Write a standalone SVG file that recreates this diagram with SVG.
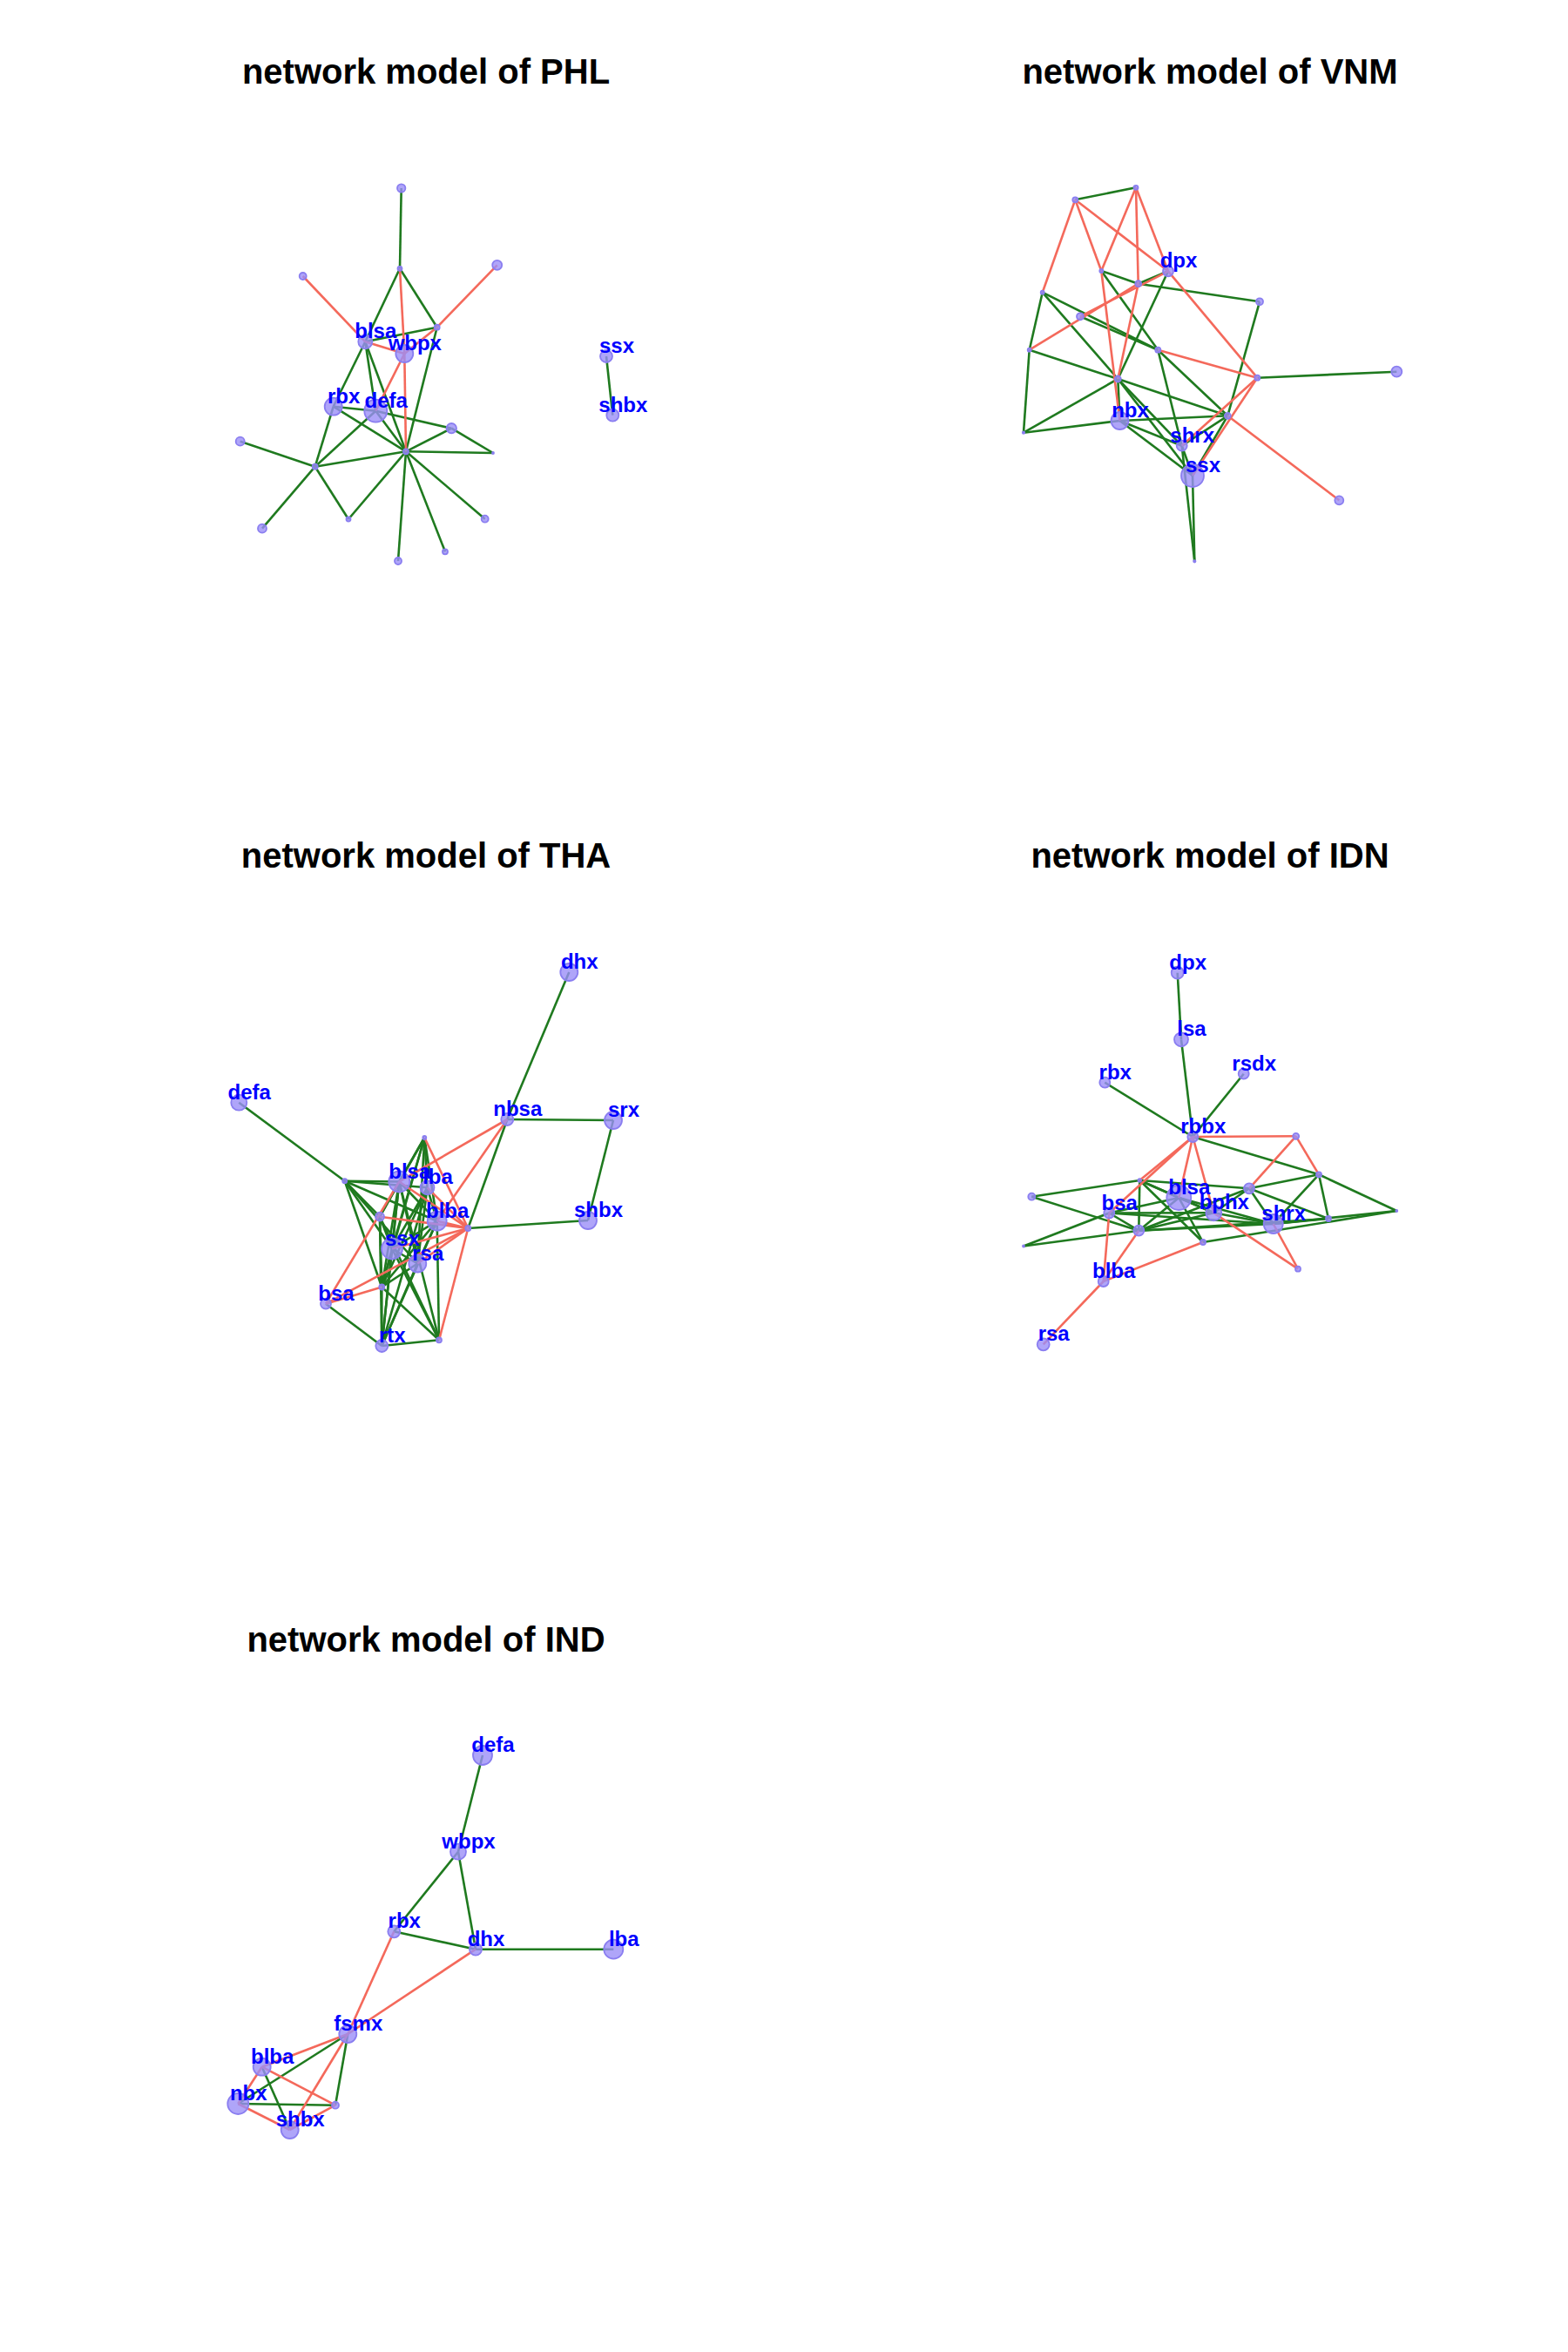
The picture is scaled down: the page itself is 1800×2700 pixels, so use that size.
<svg xmlns="http://www.w3.org/2000/svg" width="1800" height="2700" viewBox="0 0 1800 2700">
<style>
.bg{fill:#ffffff}
.t{font-family:"Liberation Sans",Arial,sans-serif;font-weight:bold;font-size:40px;fill:#000;text-anchor:middle}
.g{stroke:#1F7A1F;stroke-width:2.6;fill:none}
.r{stroke:#F4695B;stroke-width:2.6;fill:none}
circle{fill:#9B8EF7;fill-opacity:0.8;stroke:#8A7EF0;stroke-width:1.8}
.l{font-family:"Liberation Sans",Arial,sans-serif;font-weight:bold;font-size:24px;fill:#0000FF;text-anchor:middle}
</style>
<rect class="bg" width="1800" height="2700"/>
<text class="t" x="489" y="96">network model of PHL</text>
<text class="t" x="1389" y="96">network model of VNM</text>
<text class="t" x="489" y="996">network model of THA</text>
<text class="t" x="1389" y="996">network model of IDN</text>
<text class="t" x="489" y="1896">network model of IND</text>

<!-- PHL -->
<g id="phl-edges">
<line class="g" x1="460.7" y1="216" x2="459" y2="308.3"/>
<line class="g" x1="459" y1="308.3" x2="419.3" y2="392.3"/>
<line class="g" x1="459" y1="308.3" x2="501.7" y2="375.7"/>
<line class="g" x1="419.3" y1="392.3" x2="501.7" y2="375.7"/>
<line class="g" x1="501.7" y1="375.7" x2="466" y2="518.3"/>
<line class="g" x1="419.3" y1="392.3" x2="382.7" y2="466.7"/>
<line class="g" x1="382.7" y1="466.7" x2="361.7" y2="535.7"/>
<line class="g" x1="419.3" y1="392.3" x2="431.3" y2="471.7"/>
<line class="g" x1="419.3" y1="392.3" x2="466" y2="518.3"/>
<line class="g" x1="382.7" y1="466.7" x2="431.3" y2="471.7"/>
<line class="g" x1="382.7" y1="466.7" x2="466" y2="518.3"/>
<line class="g" x1="431.3" y1="471.7" x2="466" y2="518.3"/>
<line class="g" x1="431.3" y1="471.7" x2="361.7" y2="535.7"/>
<line class="g" x1="431.3" y1="471.7" x2="518.3" y2="491.7"/>
<line class="g" x1="466" y1="518.3" x2="518.3" y2="491.7"/>
<line class="g" x1="518.3" y1="491.7" x2="566" y2="520"/>
<line class="g" x1="466" y1="518.3" x2="566" y2="520"/>
<line class="g" x1="275.7" y1="506.7" x2="361.7" y2="535.7"/>
<line class="g" x1="361.7" y1="535.7" x2="466" y2="518.3"/>
<line class="g" x1="361.7" y1="535.7" x2="301" y2="606.7"/>
<line class="g" x1="361.7" y1="535.7" x2="400" y2="596"/>
<line class="g" x1="400" y1="596" x2="466" y2="518.3"/>
<line class="g" x1="466" y1="518.3" x2="457" y2="644"/>
<line class="g" x1="466" y1="518.3" x2="511" y2="633.3"/>
<line class="g" x1="466" y1="518.3" x2="556.7" y2="595.7"/>
<line class="g" x1="696" y1="409" x2="703.3" y2="476.7"/>
<line class="r" x1="347.7" y1="317" x2="419.3" y2="392.3"/>
<line class="r" x1="459" y1="308.3" x2="464.3" y2="406"/>
<line class="r" x1="464.3" y1="406" x2="466" y2="518.3"/>
<line class="r" x1="570.7" y1="304.3" x2="501.7" y2="375.7"/>
<line class="r" x1="501.7" y1="375.7" x2="464.3" y2="406"/>
<line class="r" x1="419.3" y1="392.3" x2="464.3" y2="406"/>
<line class="r" x1="464.3" y1="406" x2="431.3" y2="471.7"/>
</g>
<g id="phl-n-top"><circle cx="460.7" cy="216" r="4.7"/></g>
<g id="phl-n-h1"><circle cx="459" cy="308.3" r="2.5"/></g>
<g id="phl-n-lt"><circle cx="347.7" cy="317" r="4"/></g>
<g id="phl-n-rt"><circle cx="570.7" cy="304.3" r="5.5"/></g>
<g id="phl-n-rs"><circle cx="501.7" cy="375.7" r="3"/></g>
<g id="phl-blsa"><circle cx="419.3" cy="392.3" r="8"/><text class="l" x="431.3" y="388.3">blsa</text></g>
<g id="phl-wbpx"><circle cx="464.3" cy="406" r="10"/><text class="l" x="476.3" y="402">wbpx</text></g>
<g id="phl-rbx"><circle cx="382.7" cy="466.7" r="10"/><text class="l" x="394.7" y="462.7">rbx</text></g>
<g id="phl-defa"><circle cx="431.3" cy="471.7" r="13"/><text class="l" x="443.3" y="467.7">defa</text></g>
<g id="phl-n-rn"><circle cx="518.3" cy="491.7" r="5.7"/></g>
<g id="phl-n-fr"><circle cx="566" cy="520" r="1"/></g>
<g id="phl-n-hub"><circle cx="466" cy="518.3" r="3"/></g>
<g id="phl-n-ln"><circle cx="275.7" cy="506.7" r="5"/></g>
<g id="phl-n-lh"><circle cx="361.7" cy="535.7" r="3"/></g>
<g id="phl-n-bl"><circle cx="301" cy="606.7" r="5"/></g>
<g id="phl-n-b1"><circle cx="400" cy="596" r="2.5"/></g>
<g id="phl-n-b2"><circle cx="457" cy="644" r="4"/></g>
<g id="phl-n-b3"><circle cx="511" cy="633.3" r="3"/></g>
<g id="phl-n-br"><circle cx="556.7" cy="595.7" r="4"/></g>
<g id="phl-ssx"><circle cx="696" cy="409" r="7"/><text class="l" x="708" y="405">ssx</text></g>
<g id="phl-shbx"><circle cx="703.3" cy="476.7" r="7"/><text class="l" x="715.3" y="472.7">shbx</text></g>

<!-- VNM -->
<g id="vnm-edges">
<line class="g" x1="1234.3" y1="229.3" x2="1304" y2="215.3"/>
<line class="g" x1="1264.3" y1="311" x2="1306.7" y2="325.7"/>
<line class="g" x1="1306.7" y1="325.7" x2="1446" y2="346.3"/>
<line class="g" x1="1306.7" y1="325.7" x2="1341" y2="311.3"/>
<line class="g" x1="1196.7" y1="335.7" x2="1181.7" y2="401.7"/>
<line class="g" x1="1196.7" y1="335.7" x2="1283.3" y2="435"/>
<line class="g" x1="1196.7" y1="335.7" x2="1329.3" y2="401.7"/>
<line class="g" x1="1240" y1="363.3" x2="1329.3" y2="401.7"/>
<line class="g" x1="1264.3" y1="311" x2="1329.3" y2="401.7"/>
<line class="g" x1="1341" y1="311.3" x2="1283.3" y2="435"/>
<line class="g" x1="1181.7" y1="401.7" x2="1283.3" y2="435"/>
<line class="g" x1="1181.7" y1="401.7" x2="1175" y2="496.7"/>
<line class="g" x1="1175" y1="496.7" x2="1283.3" y2="435"/>
<line class="g" x1="1175" y1="496.7" x2="1285.5" y2="483"/>
<line class="g" x1="1283.3" y1="435" x2="1285.5" y2="483"/>
<line class="g" x1="1283.3" y1="435" x2="1409.3" y2="477.3"/>
<line class="g" x1="1283.3" y1="435" x2="1356.7" y2="511.7"/>
<line class="g" x1="1283.3" y1="435" x2="1369" y2="546"/>
<line class="g" x1="1329.3" y1="401.7" x2="1356.7" y2="511.7"/>
<line class="g" x1="1329.3" y1="401.7" x2="1409.3" y2="477.3"/>
<line class="g" x1="1285.5" y1="483" x2="1409.3" y2="477.3"/>
<line class="g" x1="1285.5" y1="483" x2="1356.7" y2="511.7"/>
<line class="g" x1="1285.5" y1="483" x2="1369" y2="546"/>
<line class="g" x1="1409.3" y1="477.3" x2="1369" y2="546"/>
<line class="g" x1="1409.3" y1="477.3" x2="1356.7" y2="511.7"/>
<line class="g" x1="1356.7" y1="511.7" x2="1369" y2="546"/>
<line class="g" x1="1356.7" y1="511.7" x2="1371.3" y2="644.3"/>
<line class="g" x1="1369" y1="546" x2="1371.3" y2="644.3"/>
<line class="g" x1="1446" y1="346.3" x2="1409.3" y2="477.3"/>
<line class="g" x1="1443.3" y1="433.7" x2="1603.3" y2="426.7"/>
<line class="r" x1="1234.3" y1="229.3" x2="1196.7" y2="335.7"/>
<line class="r" x1="1234.3" y1="229.3" x2="1264.3" y2="311"/>
<line class="r" x1="1234.3" y1="229.3" x2="1341" y2="311.3"/>
<line class="r" x1="1304" y1="215.3" x2="1264.3" y2="311"/>
<line class="r" x1="1304" y1="215.3" x2="1306.7" y2="325.7"/>
<line class="r" x1="1304" y1="215.3" x2="1341" y2="311.3"/>
<line class="r" x1="1181.7" y1="401.7" x2="1306.7" y2="325.7"/>
<line class="r" x1="1240" y1="363.3" x2="1341" y2="311.3"/>
<line class="r" x1="1264.3" y1="311" x2="1285.5" y2="483"/>
<line class="r" x1="1306.7" y1="325.7" x2="1283.3" y2="435"/>
<line class="r" x1="1341" y1="311.3" x2="1443.3" y2="433.7"/>
<line class="r" x1="1329.3" y1="401.7" x2="1443.3" y2="433.7"/>
<line class="r" x1="1443.3" y1="433.7" x2="1356.7" y2="511.7"/>
<line class="r" x1="1443.3" y1="433.7" x2="1369" y2="546"/>
<line class="r" x1="1409.3" y1="477.3" x2="1537.3" y2="574.3"/>
</g>
<g id="vnm-n-a"><circle cx="1234.3" cy="229.3" r="3"/></g>
<g id="vnm-n-b"><circle cx="1304" cy="215.3" r="2.5"/></g>
<g id="vnm-dpx"><circle cx="1341" cy="311.3" r="6"/><text class="l" x="1353" y="307.3">dpx</text></g>
<g id="vnm-n-c"><circle cx="1264.3" cy="311" r="2"/></g>
<g id="vnm-n-d"><circle cx="1306.7" cy="325.7" r="3.5"/></g>
<g id="vnm-n-e"><circle cx="1446" cy="346.3" r="4"/></g>
<g id="vnm-n-f"><circle cx="1196.7" cy="335.7" r="2"/></g>
<g id="vnm-n-g"><circle cx="1240" cy="363.3" r="4"/></g>
<g id="vnm-n-h"><circle cx="1181.7" cy="401.7" r="2"/></g>
<g id="vnm-n-i"><circle cx="1329.3" cy="401.7" r="3"/></g>
<g id="vnm-n-j"><circle cx="1443.3" cy="433.7" r="3"/></g>
<g id="vnm-n-k"><circle cx="1603.3" cy="426.7" r="6"/></g>
<g id="vnm-n-l"><circle cx="1283.3" cy="435" r="3.5"/></g>
<g id="vnm-n-m"><circle cx="1175" cy="496.7" r="1.2"/></g>
<g id="vnm-nbx"><circle cx="1285.5" cy="483" r="10"/><text class="l" x="1297.5" y="479">nbx</text></g>
<g id="vnm-n-n"><circle cx="1409.3" cy="477.3" r="3.5"/></g>
<g id="vnm-shrx"><circle cx="1356.7" cy="511.7" r="6"/><text class="l" x="1368.7" y="507.7">shrx</text></g>
<g id="vnm-ssx"><circle cx="1369" cy="546" r="13"/><text class="l" x="1381" y="542">ssx</text></g>
<g id="vnm-n-o"><circle cx="1537.3" cy="574.3" r="5"/></g>
<g id="vnm-n-p"><circle cx="1371.3" cy="644.3" r="1.2"/></g>

<!-- THA -->
<g id="tha-edges">
<line class="g" x1="653.3" y1="1116" x2="582.3" y2="1285"/>
<line class="g" x1="582.3" y1="1285" x2="704" y2="1286"/>
<line class="g" x1="704" y1="1286" x2="675" y2="1401"/>
<line class="g" x1="582.3" y1="1285" x2="537.3" y2="1410"/>
<line class="g" x1="537.3" y1="1410" x2="675" y2="1401"/>
<line class="g" x1="274.3" y1="1265.7" x2="395.7" y2="1355.7"/>
<line class="g" x1="395.7" y1="1355.7" x2="458.3" y2="1356.5"/>
<line class="g" x1="395.7" y1="1355.7" x2="490.5" y2="1363.3"/>
<line class="g" x1="395.7" y1="1355.7" x2="436" y2="1396.7"/>
<line class="g" x1="395.7" y1="1355.7" x2="450" y2="1433.5"/>
<line class="g" x1="395.7" y1="1355.7" x2="479.3" y2="1450.5"/>
<line class="g" x1="395.7" y1="1355.7" x2="438.3" y2="1477.5"/>
<line class="g" x1="395.7" y1="1355.7" x2="501.7" y2="1401.7"/>
<line class="g" x1="487.3" y1="1306" x2="458.3" y2="1356.5"/>
<line class="g" x1="487.3" y1="1306" x2="490.5" y2="1363.3"/>
<line class="g" x1="487.3" y1="1306" x2="501.7" y2="1401.7"/>
<line class="g" x1="487.3" y1="1306" x2="436" y2="1396.7"/>
<line class="g" x1="487.3" y1="1306" x2="450" y2="1433.5"/>
<line class="g" x1="487.3" y1="1306" x2="479.3" y2="1450.5"/>
<line class="g" x1="487.3" y1="1306" x2="438.3" y2="1477.5"/>
<line class="g" x1="458.3" y1="1356.5" x2="436" y2="1396.7"/>
<line class="g" x1="458.3" y1="1356.5" x2="450" y2="1433.5"/>
<line class="g" x1="458.3" y1="1356.5" x2="479.3" y2="1450.5"/>
<line class="g" x1="458.3" y1="1356.5" x2="438.3" y2="1477.5"/>
<line class="g" x1="458.3" y1="1356.5" x2="501.7" y2="1401.7"/>
<line class="g" x1="458.3" y1="1356.5" x2="438.3" y2="1545"/>
<line class="g" x1="458.3" y1="1356.5" x2="504" y2="1538.3"/>
<line class="g" x1="490.5" y1="1363.3" x2="450" y2="1433.5"/>
<line class="g" x1="490.5" y1="1363.3" x2="479.3" y2="1450.5"/>
<line class="g" x1="490.5" y1="1363.3" x2="438.3" y2="1477.5"/>
<line class="g" x1="490.5" y1="1363.3" x2="438.3" y2="1545"/>
<line class="g" x1="490.5" y1="1363.3" x2="501.7" y2="1401.7"/>
<line class="g" x1="436" y1="1396.7" x2="450" y2="1433.5"/>
<line class="g" x1="436" y1="1396.7" x2="438.3" y2="1477.5"/>
<line class="g" x1="436" y1="1396.7" x2="438.3" y2="1545"/>
<line class="g" x1="436" y1="1396.7" x2="504" y2="1538.3"/>
<line class="g" x1="501.7" y1="1401.7" x2="450" y2="1433.5"/>
<line class="g" x1="501.7" y1="1401.7" x2="479.3" y2="1450.5"/>
<line class="g" x1="501.7" y1="1401.7" x2="438.3" y2="1477.5"/>
<line class="g" x1="501.7" y1="1401.7" x2="504" y2="1538.3"/>
<line class="g" x1="501.7" y1="1401.7" x2="438.3" y2="1545"/>
<line class="g" x1="450" y1="1433.5" x2="479.3" y2="1450.5"/>
<line class="g" x1="450" y1="1433.5" x2="438.3" y2="1477.5"/>
<line class="g" x1="450" y1="1433.5" x2="438.3" y2="1545"/>
<line class="g" x1="450" y1="1433.5" x2="504" y2="1538.3"/>
<line class="g" x1="479.3" y1="1450.5" x2="438.3" y2="1477.5"/>
<line class="g" x1="479.3" y1="1450.5" x2="438.3" y2="1545"/>
<line class="g" x1="438.3" y1="1477.5" x2="438.3" y2="1545"/>
<line class="g" x1="438.3" y1="1477.5" x2="504" y2="1538.3"/>
<line class="g" x1="438.3" y1="1545" x2="504" y2="1538.3"/>
<line class="g" x1="374" y1="1496.7" x2="438.3" y2="1545"/>
<line class="r" x1="487.3" y1="1306" x2="537.3" y2="1410"/>
<line class="r" x1="582.3" y1="1285" x2="458.3" y2="1356.5"/>
<line class="r" x1="582.3" y1="1285" x2="501.7" y2="1401.7"/>
<line class="r" x1="537.3" y1="1410" x2="490.5" y2="1363.3"/>
<line class="r" x1="537.3" y1="1410" x2="458.3" y2="1356.5"/>
<line class="r" x1="537.3" y1="1410" x2="436" y2="1396.7"/>
<line class="r" x1="537.3" y1="1410" x2="450" y2="1433.5"/>
<line class="r" x1="537.3" y1="1410" x2="479.3" y2="1450.5"/>
<line class="r" x1="537.3" y1="1410" x2="504" y2="1538.3"/>
<line class="r" x1="537.3" y1="1410" x2="501.7" y2="1401.7"/>
<line class="r" x1="374" y1="1496.7" x2="458.3" y2="1356.5"/>
<line class="r" x1="374" y1="1496.7" x2="438.3" y2="1477.5"/>
<line class="r" x1="374" y1="1496.7" x2="537.3" y2="1410"/>
</g>
<g id="tha-dhx"><circle cx="653.3" cy="1116" r="10"/><text class="l" x="665.3" y="1112">dhx</text></g>
<g id="tha-defa"><circle cx="274.3" cy="1265.7" r="9"/><text class="l" x="286.3" y="1261.7">defa</text></g>
<g id="tha-nbsa"><circle cx="582.3" cy="1285" r="7"/><text class="l" x="594.3" y="1281">nbsa</text></g>
<g id="tha-srx"><circle cx="704" cy="1286" r="10"/><text class="l" x="716" y="1282">srx</text></g>
<g id="tha-n-a"><circle cx="487.3" cy="1306" r="2"/></g>
<g id="tha-n-b"><circle cx="395.7" cy="1355.7" r="2.5"/></g>
<g id="tha-blsa"><circle cx="458.3" cy="1356.5" r="12"/><text class="l" x="470.3" y="1352.5">blsa</text></g>
<g id="tha-lba"><circle cx="490.5" cy="1363.3" r="8"/><text class="l" x="502.5" y="1359.3">lba</text></g>
<g id="tha-n-c"><circle cx="436" cy="1396.7" r="5"/></g>
<g id="tha-blba"><circle cx="501.7" cy="1401.7" r="11"/><text class="l" x="513.7" y="1397.7">blba</text></g>
<g id="tha-n-d"><circle cx="537.3" cy="1410" r="3"/></g>
<g id="tha-shbx"><circle cx="675" cy="1401" r="10"/><text class="l" x="687" y="1397">shbx</text></g>
<g id="tha-ssx"><circle cx="450" cy="1433.5" r="12"/><text class="l" x="462" y="1429.5">ssx</text></g>
<g id="tha-rsa"><circle cx="479.3" cy="1450.5" r="10"/><text class="l" x="491.3" y="1446.5">rsa</text></g>
<g id="tha-n-e"><circle cx="438.3" cy="1477.5" r="3"/></g>
<g id="tha-bsa"><circle cx="374" cy="1496.7" r="6"/><text class="l" x="386" y="1492.7">bsa</text></g>
<g id="tha-rtx"><circle cx="438.3" cy="1545" r="7"/><text class="l" x="450.3" y="1541">rtx</text></g>
<g id="tha-n-f"><circle cx="504" cy="1538.3" r="3"/></g>

<!-- IDN -->
<g id="idn-edges">
<line class="g" x1="1351.7" y1="1116.7" x2="1356" y2="1193.3"/>
<line class="g" x1="1356" y1="1193.3" x2="1369.3" y2="1305"/>
<line class="g" x1="1268.3" y1="1242.7" x2="1369.3" y2="1305"/>
<line class="g" x1="1427.7" y1="1232.7" x2="1369.3" y2="1305"/>
<line class="g" x1="1369.3" y1="1305" x2="1514" y2="1348.3"/>
<line class="g" x1="1514" y1="1348.3" x2="1603.3" y2="1390"/>
<line class="g" x1="1514" y1="1348.3" x2="1525" y2="1399"/>
<line class="g" x1="1514" y1="1348.3" x2="1461.7" y2="1405"/>
<line class="g" x1="1514" y1="1348.3" x2="1434" y2="1364.3"/>
<line class="g" x1="1308.3" y1="1355" x2="1434" y2="1364.3"/>
<line class="g" x1="1184.3" y1="1373.7" x2="1308.3" y2="1355"/>
<line class="g" x1="1184.3" y1="1373.7" x2="1307.3" y2="1412.7"/>
<line class="g" x1="1175" y1="1430.5" x2="1273.3" y2="1392.5"/>
<line class="g" x1="1175" y1="1430.5" x2="1307.3" y2="1412.7"/>
<line class="g" x1="1308.3" y1="1355" x2="1307.3" y2="1412.7"/>
<line class="g" x1="1308.3" y1="1355" x2="1381" y2="1426"/>
<line class="g" x1="1308.3" y1="1355" x2="1353.3" y2="1375"/>
<line class="g" x1="1308.3" y1="1355" x2="1393.3" y2="1392.3"/>
<line class="g" x1="1273.3" y1="1392.5" x2="1353.3" y2="1375"/>
<line class="g" x1="1273.3" y1="1392.5" x2="1393.3" y2="1392.3"/>
<line class="g" x1="1273.3" y1="1392.5" x2="1307.3" y2="1412.7"/>
<line class="g" x1="1273.3" y1="1392.5" x2="1461.7" y2="1405"/>
<line class="g" x1="1353.3" y1="1375" x2="1307.3" y2="1412.7"/>
<line class="g" x1="1353.3" y1="1375" x2="1381" y2="1426"/>
<line class="g" x1="1353.3" y1="1375" x2="1461.7" y2="1405"/>
<line class="g" x1="1353.3" y1="1375" x2="1393.3" y2="1392.3"/>
<line class="g" x1="1307.3" y1="1412.7" x2="1393.3" y2="1392.3"/>
<line class="g" x1="1307.3" y1="1412.7" x2="1434" y2="1364.3"/>
<line class="g" x1="1307.3" y1="1412.7" x2="1461.7" y2="1405"/>
<line class="g" x1="1307.3" y1="1412.7" x2="1525" y2="1399"/>
<line class="g" x1="1434" y1="1364.3" x2="1461.7" y2="1405"/>
<line class="g" x1="1434" y1="1364.3" x2="1525" y2="1399"/>
<line class="g" x1="1434" y1="1364.3" x2="1393.3" y2="1392.3"/>
<line class="g" x1="1381" y1="1426" x2="1603.3" y2="1390"/>
<line class="g" x1="1461.7" y1="1405" x2="1603.3" y2="1390"/>
<line class="g" x1="1461.7" y1="1405" x2="1525" y2="1399"/>
<line class="g" x1="1393.3" y1="1392.3" x2="1461.7" y2="1405"/>
<line class="r" x1="1369.3" y1="1305" x2="1487.7" y2="1304.3"/>
<line class="r" x1="1487.7" y1="1304.3" x2="1434" y2="1364.3"/>
<line class="r" x1="1487.7" y1="1304.3" x2="1514" y2="1348.3"/>
<line class="r" x1="1369.3" y1="1305" x2="1273.3" y2="1392.5"/>
<line class="r" x1="1369.3" y1="1305" x2="1308.3" y2="1355"/>
<line class="r" x1="1369.3" y1="1305" x2="1353.3" y2="1375"/>
<line class="r" x1="1369.3" y1="1305" x2="1393.3" y2="1392.3"/>
<line class="r" x1="1273.3" y1="1392.5" x2="1266.7" y2="1471"/>
<line class="r" x1="1307.3" y1="1412.7" x2="1266.7" y2="1471"/>
<line class="r" x1="1381" y1="1426" x2="1266.7" y2="1471"/>
<line class="r" x1="1266.7" y1="1471" x2="1197.7" y2="1543.3"/>
<line class="r" x1="1393.3" y1="1392.3" x2="1490" y2="1456.7"/>
<line class="r" x1="1461.7" y1="1405" x2="1490" y2="1456.7"/>
</g>
<g id="idn-dpx"><circle cx="1351.7" cy="1116.7" r="7"/><text class="l" x="1363.7" y="1112.7">dpx</text></g>
<g id="idn-lsa"><circle cx="1356" cy="1193.3" r="8"/><text class="l" x="1368" y="1189.3">lsa</text></g>
<g id="idn-rsdx"><circle cx="1427.7" cy="1232.7" r="6"/><text class="l" x="1439.7" y="1228.7">rsdx</text></g>
<g id="idn-rbx"><circle cx="1268.3" cy="1242.7" r="6"/><text class="l" x="1280.3" y="1238.7">rbx</text></g>
<g id="idn-rbbx"><circle cx="1369.3" cy="1305" r="6"/><text class="l" x="1381.3" y="1301">rbbx</text></g>
<g id="idn-n-a"><circle cx="1487.7" cy="1304.3" r="3.5"/></g>
<g id="idn-n-b"><circle cx="1514" cy="1348.3" r="3"/></g>
<g id="idn-n-c"><circle cx="1308.3" cy="1355" r="1.8"/></g>
<g id="idn-n-d"><circle cx="1184.3" cy="1373.7" r="4"/></g>
<g id="idn-blsa"><circle cx="1353.3" cy="1375" r="14"/><text class="l" x="1365.3" y="1371">blsa</text></g>
<g id="idn-n-e"><circle cx="1434" cy="1364.3" r="6"/></g>
<g id="idn-bsa"><circle cx="1273.3" cy="1392.5" r="6"/><text class="l" x="1285.3" y="1388.5">bsa</text></g>
<g id="idn-bphx"><circle cx="1393.3" cy="1392.3" r="9"/><text class="l" x="1405.3" y="1388.3">bphx</text></g>
<g id="idn-shrx"><circle cx="1461.7" cy="1405" r="11"/><text class="l" x="1473.7" y="1401">shrx</text></g>
<g id="idn-n-f"><circle cx="1603.3" cy="1390" r="1"/></g>
<g id="idn-n-g"><circle cx="1525" cy="1399" r="3"/></g>
<g id="idn-n-h"><circle cx="1307.3" cy="1412.7" r="6"/></g>
<g id="idn-n-i"><circle cx="1175" cy="1430.5" r="1"/></g>
<g id="idn-n-j"><circle cx="1381" cy="1426" r="3"/></g>
<g id="idn-blba"><circle cx="1266.7" cy="1471" r="6"/><text class="l" x="1278.7" y="1467">blba</text></g>
<g id="idn-n-k"><circle cx="1490" cy="1456.7" r="3"/></g>
<g id="idn-rsa"><circle cx="1197.7" cy="1543.3" r="7"/><text class="l" x="1209.7" y="1539.3">rsa</text></g>

<!-- IND -->
<g id="ind-edges">
<line class="g" x1="554" y1="2015" x2="526" y2="2125.7"/>
<line class="g" x1="526" y1="2125.7" x2="452.3" y2="2217.3"/>
<line class="g" x1="526" y1="2125.7" x2="546" y2="2237.7"/>
<line class="g" x1="452.3" y1="2217.3" x2="546" y2="2237.7"/>
<line class="g" x1="546" y1="2237.7" x2="704.3" y2="2237.7"/>
<line class="g" x1="399.3" y1="2335" x2="273.3" y2="2415"/>
<line class="g" x1="399.3" y1="2335" x2="385" y2="2416.7"/>
<line class="g" x1="300.7" y1="2372.7" x2="332.7" y2="2445"/>
<line class="g" x1="273.3" y1="2415" x2="385" y2="2416.7"/>
<line class="r" x1="452.3" y1="2217.3" x2="399.3" y2="2335"/>
<line class="r" x1="546" y1="2237.7" x2="399.3" y2="2335"/>
<line class="r" x1="399.3" y1="2335" x2="300.7" y2="2372.7"/>
<line class="r" x1="399.3" y1="2335" x2="332.7" y2="2445"/>
<line class="r" x1="300.7" y1="2372.7" x2="273.3" y2="2415"/>
<line class="r" x1="300.7" y1="2372.7" x2="385" y2="2416.7"/>
<line class="r" x1="273.3" y1="2415" x2="332.7" y2="2445"/>
<line class="r" x1="332.7" y1="2445" x2="385" y2="2416.7"/>
</g>
<g id="ind-defa"><circle cx="554" cy="2015" r="11"/><text class="l" x="566" y="2011">defa</text></g>
<g id="ind-wbpx"><circle cx="526" cy="2125.7" r="9"/><text class="l" x="538" y="2121.7">wbpx</text></g>
<g id="ind-rbx"><circle cx="452.3" cy="2217.3" r="7"/><text class="l" x="464.3" y="2213.3">rbx</text></g>
<g id="ind-dhx"><circle cx="546" cy="2237.7" r="7"/><text class="l" x="558" y="2233.7">dhx</text></g>
<g id="ind-lba"><circle cx="704.3" cy="2237.7" r="11"/><text class="l" x="716.3" y="2233.7">lba</text></g>
<g id="ind-fsmx"><circle cx="399.3" cy="2335" r="10"/><text class="l" x="411.3" y="2331">fsmx</text></g>
<g id="ind-blba"><circle cx="300.7" cy="2372.7" r="10"/><text class="l" x="312.7" y="2368.7">blba</text></g>
<g id="ind-nbx"><circle cx="273.3" cy="2415" r="12"/><text class="l" x="285.3" y="2411">nbx</text></g>
<g id="ind-n-a"><circle cx="385" cy="2416.7" r="4"/></g>
<g id="ind-shbx"><circle cx="332.7" cy="2445" r="10"/><text class="l" x="344.7" y="2441">shbx</text></g>
</svg>
